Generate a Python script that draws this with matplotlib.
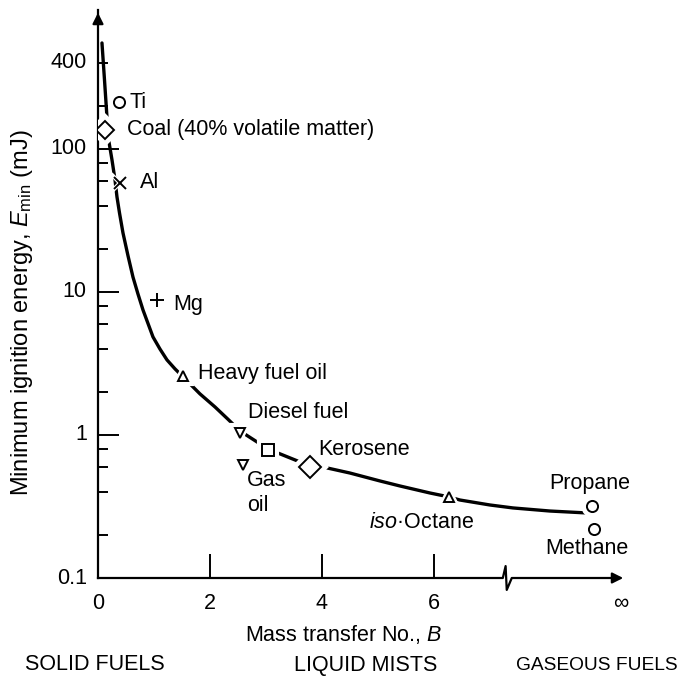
import numpy as np
import matplotlib
matplotlib.use('Agg')
from matplotlib import pyplot as plt
from matplotlib.ticker import FixedLocator, NullFormatter
from matplotlib.transforms import blended_transform_factory

plt.rcParams['font.family'] = ['Liberation Sans', 'DejaVu Sans']
plt.rcParams['mathtext.fontset'] = 'custom'
plt.rcParams['mathtext.rm'] = 'Liberation Sans'
plt.rcParams['mathtext.it'] = 'Liberation Sans:italic'

# fuels: mass transfer number B, minimum ignition energy (mJ)
fuel_names = ['Ti', 'Coal (40% volatile matter)', 'Al', 'Mg', 'Heavy fuel oil',
              'Diesel fuel', 'Gas oil', '', 'Kerosene', 'iso-Octane',
              'Propane', 'Methane']
fuel_B = [0.38, 0.12, 0.39, 1.05, 1.52, 2.54, 2.59, 3.04, 3.79, 6.27, 8.82, 8.86]
fuel_E = [213, 136, 58, 8.8, 2.58, 1.03, 0.62, 0.79, 0.60, 0.37, 0.32, 0.22]
fuel_markers = ['o', 'D', 'x', '+', '^', 'v', 'v', 's', 'D', '^', 'o', 'o']
on_curve = [False, True, True, False, True, True, False, True, True, True, True, False]

# hand-drawn trend line
curve_B = [0.071, 0.116, 0.161, 0.196, 0.25, 0.304, 0.339, 0.384, 0.446, 0.536,
           0.625, 0.714, 0.804, 0.982, 1.107, 1.232, 1.375, 1.518, 1.82, 2.09,
           2.32, 2.536, 3.036, 3.786, 4.018, 4.5, 5.036, 5.393, 5.929, 6.268,
           6.464, 7.0, 7.41, 8.07, 8.73]
curve_E = [551, 304, 165, 112, 83.8, 60.7, 46.2, 35.7, 25.9, 17.9,
           12.7, 9.68, 7.48, 4.85, 3.99, 3.35, 2.90, 2.55, 1.94, 1.57,
           1.29, 1.067, 0.798, 0.607, 0.597, 0.542, 0.477, 0.440, 0.393, 0.369,
           0.351, 0.324, 0.309, 0.294, 0.285]

x_ticks = [2, 4, 6]
x_ticklabels = ['0', '2', '4', '6', '∞']
x_ticklabel_pos = [0, 2, 4, 6, 9.34]
y_major = [1, 10, 100]
y_minor = [0.2, 0.4, 0.6, 0.8, 2, 4, 6, 8, 20, 40, 60, 80, 200, 400]
y_labels = ['0.1', '1', '10', '100', '400']
y_label_pos = [0.1, 1, 10, 100, 400]

fig = plt.figure(figsize=(6.83, 6.84), dpi=100)
ax = fig.add_axes([98 / 683, 106 / 684, 528 / 683, 568 / 684])
ax.set_yscale('log')
ax.set_xlim(0, 9.43)
ax.set_ylim(0.1, 937)

for s in ['top', 'right', 'bottom']:
    ax.spines[s].set_visible(False)
ax.spines['left'].set_linewidth(1.6)

ax.yaxis.set_major_locator(FixedLocator(y_major))
ax.yaxis.set_minor_locator(FixedLocator(y_minor))
ax.yaxis.set_major_formatter(NullFormatter())
ax.yaxis.set_minor_formatter(NullFormatter())
ax.tick_params(axis='y', which='major', direction='in', length=15, width=1.4)
ax.tick_params(axis='y', which='minor', direction='in', length=7, width=1.4)
ax.xaxis.set_major_locator(FixedLocator(x_ticks))
ax.xaxis.set_major_formatter(NullFormatter())
ax.tick_params(axis='x', which='major', direction='in', length=17, width=1.4)
ax.tick_params(axis='x', which='minor', bottom=False)

# bottom axis with break
bt = blended_transform_factory(ax.transData, ax.transAxes)
ax.plot([0, 7.23, 7.28, 7.30, 7.39, 9.3], [0, 0, 0.021, -0.021, 0, 0], color='k',
        lw=1.6, transform=bt, clip_on=False)
ax.annotate('', xy=(1.0, 0), xytext=(0.97, 0), xycoords='axes fraction',
            arrowprops=dict(arrowstyle='-|>', color='k', lw=1.6, mutation_scale=16))
ax.annotate('', xy=(0, 1.0), xytext=(0, 0.97), xycoords='axes fraction',
            arrowprops=dict(arrowstyle='-|>', color='k', lw=1.6, mutation_scale=16))

ax.plot(curve_B, curve_E, color='k', lw=2.4, solid_capstyle='round',
        solid_joinstyle='round', zorder=2)

sizes = {'o': 8, 'D': 9, 'x': 8, '+': 10, '^': 7, 'v': 7, 's': 8}
for name, b, e, m, oc in zip(fuel_names, fuel_B, fuel_E, fuel_markers, on_curve):
    ms = sizes[m]
    if name == 'Kerosene':
        ms = 11
    if oc:
        ax.plot(b, e, marker=m, ms=ms + 5, color='white', mec='white', mew=3, zorder=3)
    ax.plot(b, e, marker=m, ms=ms, mfc='white', mec='k', mew=1.4, color='k', zorder=4)

fs = 15.5
lab = dict(fontsize=fs, va='center', ha='left')
ax.text(0.57, 213, 'Ti', **lab)
ax.text(0.52, 136, 'Coal (40% volatile matter)', **lab)
ax.text(0.75, 58, 'Al', **lab)
ax.text(1.34, 8.2, 'Mg', **lab)
ax.text(1.79, 2.7, 'Heavy fuel oil', **lab)
ax.text(2.68, 1.43, 'Diesel fuel', **lab)
ax.text(2.66, 0.484, 'Gas', **lab)
ax.text(2.66, 0.322, 'oil', **lab)
ax.text(3.93, 0.79, 'Kerosene', **lab)
ax.text(4.84, 0.246, '$\\mathit{iso}$·Octane', **lab)
ax.text(8.79, 0.46, 'Propane', fontsize=fs, va='center', ha='center')
ax.text(8.74, 0.162, 'Methane', fontsize=fs, va='center', ha='center')

# tick labels
for p, t in zip(y_label_pos, y_labels):
    ax.text(-0.2, p, t, fontsize=fs, ha='right', va='center')
for p, t in zip(x_ticklabel_pos, x_ticklabels):
    ax.text(p, -0.045, t, fontsize=fs, ha='center', va='center', transform=bt)

ax.text(4.39, -0.1, 'Mass transfer No., $\\mathit{B}$', fontsize=fs, ha='center',
        va='center', transform=bt)
fig.text(22 / 683, 1 - 313 / 684, 'Minimum ignition energy, $\\mathit{E}_{\\rm min}$ (mJ)',
         fontsize=17, rotation=90, ha='center', va='center')

fig.text(95 / 683, 1 - 665 / 684, 'SOLID FUELS', fontsize=fs, ha='center', va='center')
fig.text(366 / 683, 1 - 665 / 684, 'LIQUID MISTS', fontsize=fs, ha='center', va='center')
fig.text(597 / 683, 1 - 665 / 684, 'GASEOUS FUELS', fontsize=13.8, ha='center', va='center')

plt.savefig('out.png', dpi=100)
